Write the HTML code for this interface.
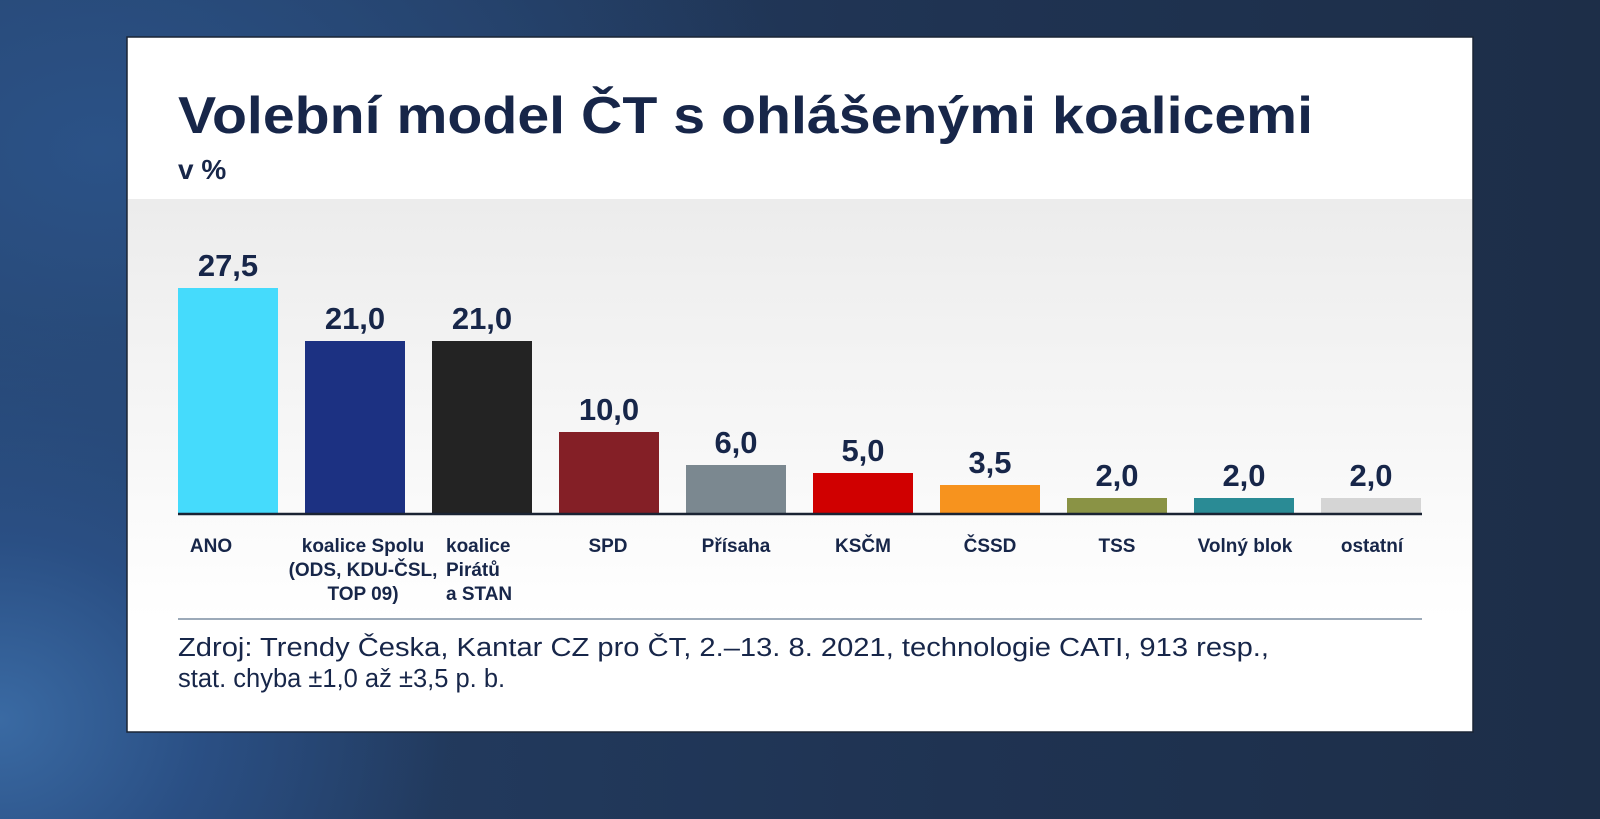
<!DOCTYPE html>
<html><head><meta charset="utf-8"><style>
html,body{margin:0;padding:0;width:1600px;height:819px;overflow:hidden;}
body{background:radial-gradient(ellipse 450px 400px at 0px 720px,#3a6aa3 0%,#2a4f84 45%,rgba(34,58,95,0) 100%),radial-gradient(ellipse 700px 500px at 100px 150px,#2b5287 0%,rgba(33,52,82,0) 100%),linear-gradient(90deg,#243f66 0%,#1f3352 60%,#1d2e48 100%);}
svg{position:absolute;left:0;top:0;}
text{font-family:"Liberation Sans","DejaVu Sans",sans-serif;fill:#172649;}
</style></head><body>
<svg width="1600" height="819" viewBox="0 0 1600 819">
<defs><linearGradient id="g" x1="0" y1="0" x2="0" y2="1"><stop offset="0" stop-color="#ececec"/><stop offset="1" stop-color="#ffffff"/></linearGradient></defs>
<rect x="127" y="37" width="1346" height="695" fill="#fff" stroke="#1a2535" stroke-width="1.5"/>
<rect x="128" y="199" width="1344" height="420" fill="url(#g)"/>
<text x="178" y="133" font-size="52" font-weight="bold" textLength="1135" lengthAdjust="spacingAndGlyphs">Volební model ČT s ohlášenými koalicemi</text>
<text x="178" y="179" font-size="28" font-weight="bold">v %</text>
<g>
<rect x="178" y="288" width="100" height="226" fill="#45dbfc"/>
<rect x="305" y="341" width="100" height="173" fill="#1c3182"/>
<rect x="432" y="341" width="100" height="173" fill="#232323"/>
<rect x="559" y="432" width="100" height="82" fill="#841f26"/>
<rect x="686" y="465" width="100" height="49" fill="#7b8890"/>
<rect x="813" y="473" width="100" height="41" fill="#d00000"/>
<rect x="940" y="485" width="100" height="29" fill="#f7931e"/>
<rect x="1067" y="498" width="100" height="16" fill="#8a9345"/>
<rect x="1194" y="498" width="100" height="16" fill="#2a8b95"/>
<rect x="1321" y="498" width="100" height="16" fill="#d5d5d5"/>
</g>
<line x1="178" y1="514" x2="1422" y2="514" stroke="#1a2333" stroke-width="2.5"/>
<g font-size="31" font-weight="bold" text-anchor="middle">
<text x="228" y="276">27,5</text>
<text x="355" y="329">21,0</text>
<text x="482" y="329">21,0</text>
<text x="609" y="420">10,0</text>
<text x="736" y="453">6,0</text>
<text x="863" y="461">5,0</text>
<text x="990" y="473">3,5</text>
<text x="1117" y="486">2,0</text>
<text x="1244" y="486">2,0</text>
<text x="1371" y="486">2,0</text>
</g>
<g font-size="19" font-weight="bold" text-anchor="middle">
<text x="211" y="552">ANO</text>
<text x="363" y="552">koalice Spolu</text>
<text x="363" y="576">(ODS, KDU-ČSL,</text>
<text x="363" y="600">TOP 09)</text>
<text x="608" y="552">SPD</text>
<text x="736" y="552">Přísaha</text>
<text x="863" y="552">KSČM</text>
<text x="990" y="552">ČSSD</text>
<text x="1117" y="552">TSS</text>
<text x="1245" y="552">Volný blok</text>
<text x="1372" y="552">ostatní</text>
</g>
<g font-size="19" font-weight="bold">
<text x="446" y="552">koalice</text>
<text x="446" y="576">Pirátů</text>
<text x="446" y="600">a STAN</text>
</g>
<line x1="178" y1="619" x2="1422" y2="619" stroke="#7b8da2" stroke-width="1.5"/>
<text x="178" y="656" font-size="25.5" textLength="1091" lengthAdjust="spacingAndGlyphs">Zdroj: Trendy Česka, Kantar CZ pro ČT, 2.–13. 8. 2021, technologie CATI, 913 resp.,</text>
<text x="178" y="687" font-size="25.5">stat. chyba ±1,0 až ±3,5 p. b.</text>
</svg>
</body></html>
